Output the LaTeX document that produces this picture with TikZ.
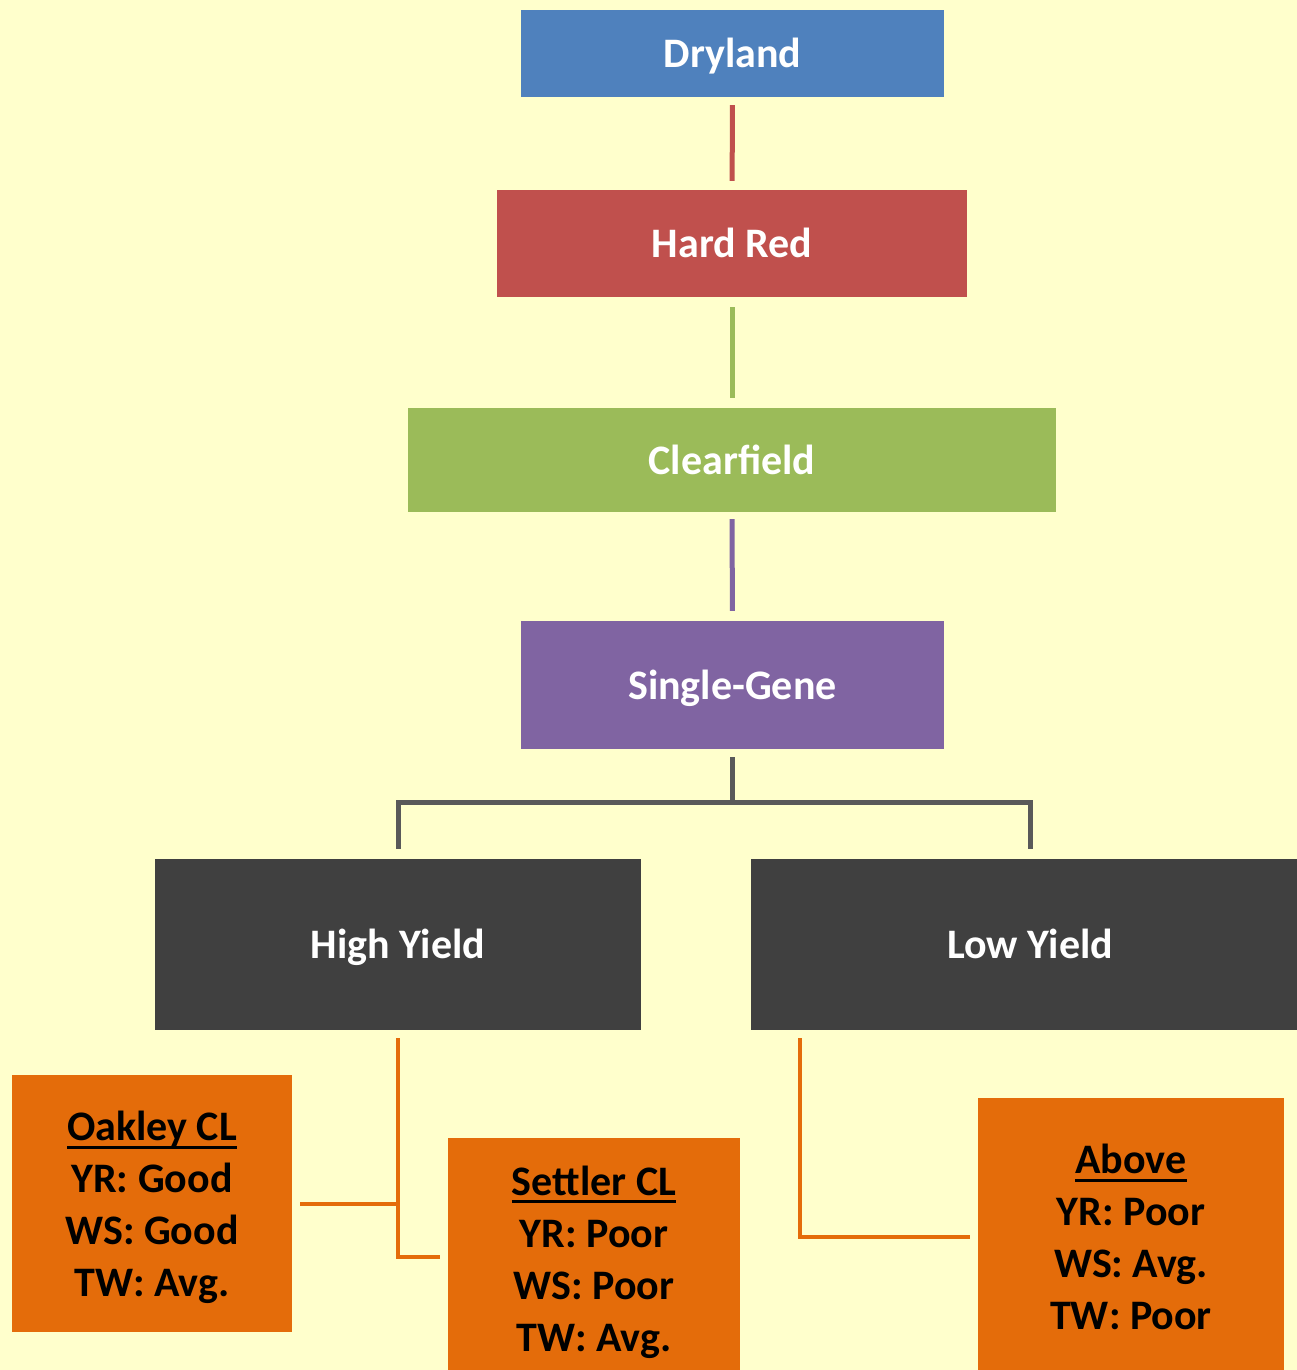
\documentclass[tikz,border=0pt]{standalone}
\usepackage{fontspec}
\setmainfont{Carlito}
\usetikzlibrary{calc}
\newcommand{\myul}[1]{\setbox0\hbox{#1}\rlap{\vrule height -5pt depth 8pt width \wd0}\box0}
\definecolor{bg}{HTML}{FFFFCC}
\definecolor{cblue}{HTML}{4F81BD}
\definecolor{cred}{HTML}{C0504D}
\definecolor{cgreen}{HTML}{9BBB59}
\definecolor{cpurple}{HTML}{8064A2}
\definecolor{cdark}{HTML}{404040}
\definecolor{cgray}{HTML}{595959}
\definecolor{corange}{HTML}{E46C0A}
\tikzset{
  box/.style={rectangle, inner sep=0pt, align=center, text=white,
    font=\fontsize{42}{52}\selectfont\bfseries},
  sbox/.style={box, text height=28pt, text depth=0pt},
  obox/.style={box, fill=corange, text=black},
  link/.style={line width=5pt},
}
\begin{document}
\begin{tikzpicture}[x=1pt,y=-1pt]
\fill[bg] (0,0) rectangle (1297,1370);
\useasboundingbox (0,0) rectangle (1297,1370);
\begin{scope}
\clip (0,0) rectangle (1297,1370);
\node[sbox, fill=cblue, minimum width=423pt, minimum height=87pt] (dry) at (732.5,53.5) {Dryland};
\node[sbox, fill=cred, minimum width=470pt, minimum height=107pt] (hard) at (732,243.5) {Hard Red};
\node[sbox, fill=cgreen, minimum width=648pt, minimum height=104pt] (clear) at (732,460) {Clearfield};
\node[sbox, fill=cpurple, minimum width=423pt, minimum height=128pt] (sg) at (732.5,685) {Single-Gene};
\node[sbox, fill=cdark, minimum width=486pt, minimum height=171pt] (hy) at (398,944.5) {High Yield};
\node[sbox, fill=cdark, minimum width=558pt, minimum height=171pt] (ly) at (1030,944.5) {Low Yield};
\node[obox, minimum width=280pt, minimum height=257pt] (oak) at (152,1203.5) {};
\node[obox, fill=none, anchor=center] (oaktext) at (152,1207.5) {\myul{Oakley CL}\\YR: Good\\WS: Good\\TW: Avg.};
\node[obox, minimum width=292pt, minimum height=242pt] (set) at (594,1259) {};
\node[obox, fill=none] (settext) at (594,1262) {\myul{Settler CL}\\YR: Poor\\WS: Poor\\TW: Avg.};
\node[obox, minimum width=306pt, minimum height=278pt] (ab) at (1131,1237) {\myul{Above}\\YR: Poor\\WS: Avg.\\TW: Poor};

\draw[link, cred, shorten <=8pt, shorten >=9pt] (dry) -- (hard);
\draw[link, cgreen, shorten <=10pt, shorten >=10pt] (hard) -- (clear);
\draw[link, cpurple, shorten <=7pt, shorten >=10pt] (clear) -- (sg);
\coordinate (fork) at ($(sg.south)+(0,53)$);
\draw[link, cgray, shorten <=8pt] (sg.south) -- (fork);
\draw[link, cgray, shorten >=10pt] (fork) -| (hy.north);
\draw[link, cgray, shorten >=10pt] (fork) -| (ly.north);
\draw[link, corange, line width=4pt, shorten <=8pt, shorten >=8pt] (hy.south) |- ($(set.west)+(0,-2)$);
\draw[link, corange, line width=4pt, shorten <=8pt] (oak.east) -- (oak.east -| hy.south);
\coordinate (lyd) at ($(ly.south west)+(49,8)$);
\draw[link, corange, line width=4pt, shorten >=8pt] (lyd) |- (ab.west);
\end{scope}
\end{tikzpicture}
\end{document}
